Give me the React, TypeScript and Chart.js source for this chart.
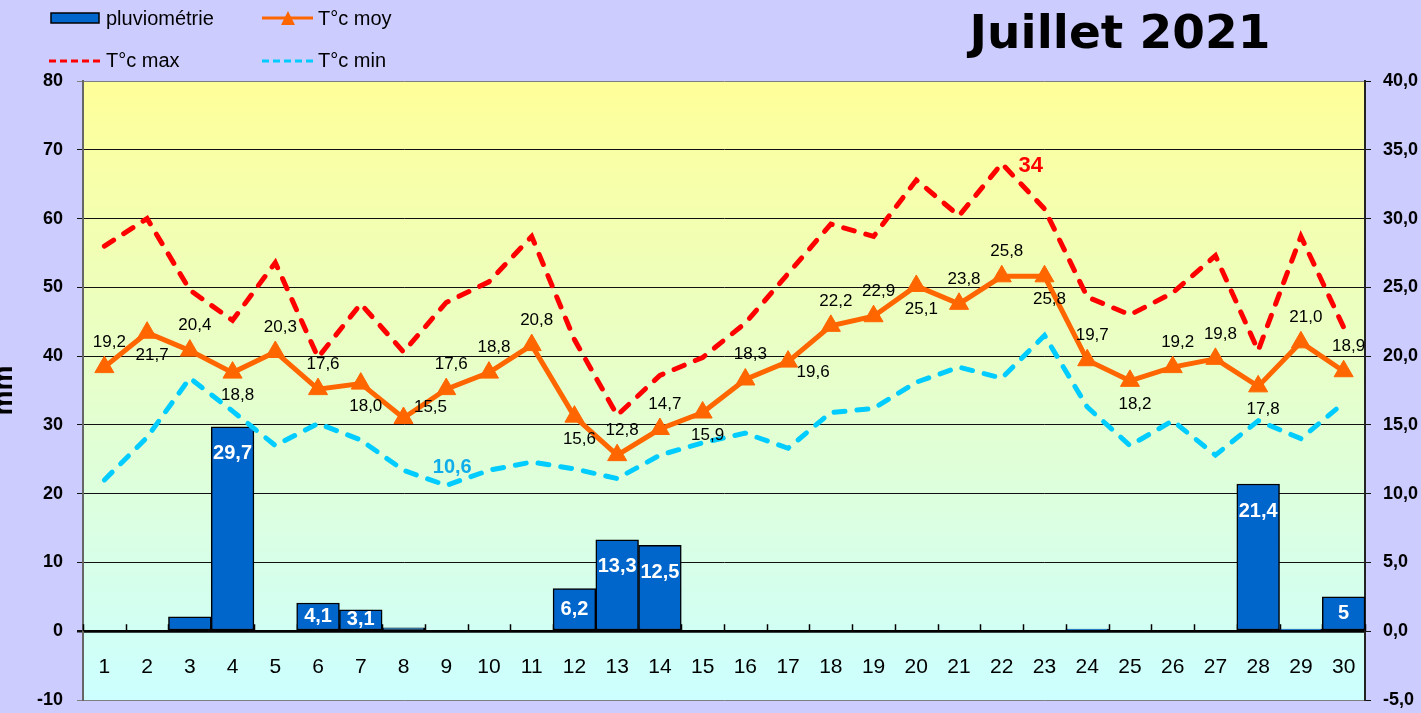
import React, { useEffect, useRef } from 'react';
import { Chart, registerables } from 'chart.js';

Chart.register(...registerables);

// ---- data ----
const days = ['1','2','3','4','5','6','7','8','9','10','11','12','13','14','15','16','17','18','19','20','21','22','23','24','25','26','27','28','29','30'];
const rain = [0, 0, 2.1, 29.7, 0, 4.1, 3.1, 0.5, 0, 0, 0, 6.2, 13.3, 12.5, 0, 0, 0, 0, 0, 0, 0, 0, 0, 0.3, 0, 0, 0, 21.4, 0.3, 5];
const tMoy = [19.2, 21.7, 20.4, 18.8, 20.3, 17.6, 18.0, 15.5, 17.6, 18.8, 20.8, 15.6, 12.8, 14.7, 15.9, 18.3, 19.6, 22.2, 22.9, 25.1, 23.8, 25.8, 25.8, 19.7, 18.2, 19.2, 19.8, 17.8, 21.0, 18.9];
const tMax = [28.0, 30.0, 24.8, 22.6, 26.8, 19.9, 23.8, 20.3, 23.9, 25.4, 28.7, 21.2, 15.7, 18.6, 19.9, 22.4, 26.0, 29.6, 28.7, 32.8, 30.2, 34.0, 30.7, 24.3, 23.0, 24.6, 27.3, 20.4, 28.7, 22.1];
const tMin = [11.0, 14.1, 18.4, 16.0, 13.5, 15.1, 13.9, 11.7, 10.6, 11.7, 12.3, 11.8, 11.1, 12.8, 13.7, 14.4, 13.3, 15.9, 16.2, 18.1, 19.2, 18.4, 21.5, 16.3, 13.5, 15.3, 12.8, 15.3, 14.0, 16.6];
// where each T°c moy value label sits: a = above, b = below, ur = up-right, dr = down-right
const moyLabelPos = ['a','b','a','b','a','a','b','ur','a','a','a','b','a','a','b','a','dr','a','a','b','a','a','b','a','b','a','a','b','a','a'];
const titleText = 'Juillet 2021';
const rainLabel = 'pluviométrie';
const moyLabel = 'T°c moy';
const maxLabel = 'T°c max';
const minLabel = 'T°c min';

const FONT = '"Liberation Sans", Arial, sans-serif';
const BAR = '#0066CC';
const ORANGE = '#FF6600';
const RED = '#FF0000';
const CYAN = '#00CCFF';

const comma = (s: string) => s.replace('.', ',');

const bgPlugin = {
  id: 'plotBg',
  beforeDraw(chart: any) {
    const { ctx, chartArea: a } = chart;
    const g = ctx.createLinearGradient(0, a.top, 0, a.bottom);
    g.addColorStop(0, '#FFFF99');
    g.addColorStop(1, '#CCFFFF');
    ctx.save();
    ctx.fillStyle = g;
    ctx.fillRect(a.left, a.top, a.right - a.left, a.bottom - a.top);
    ctx.restore();
  },
};

const upTicksPlugin = {
  id: 'upTicks',
  beforeDatasetsDraw(chart: any) {
    const { ctx } = chart;
    const xs = chart.scales.x;
    const y0 = chart.scales.y.getPixelForValue(0);
    const n = xs.ticks.length;
    const step = (xs.right - xs.left) / n;
    ctx.save();
    ctx.strokeStyle = '#000';
    ctx.lineWidth = 1.5;
    for (let i = 0; i <= n; i++) {
      const x = Math.round(xs.left + i * step) + 0.5;
      ctx.beginPath();
      ctx.moveTo(x, y0);
      ctx.lineTo(x, y0 - 7);
      ctx.stroke();
    }
    ctx.restore();
  },
};

const labelsPlugin = {
  id: 'valueLabels',
  afterDatasetsDraw(chart: any) {
    const { ctx } = chart;
    ctx.save();
    // rain labels
    const barMeta = chart.getDatasetMeta(0);
    ctx.font = `bold 20px ${FONT}`;
    ctx.fillStyle = '#FFFFFF';
    ctx.textAlign = 'center';
    ctx.textBaseline = 'middle';
    barMeta.data.forEach((el: any, i: number) => {
      const v = rain[i];
      if (v < 3) return;
      const h = el.base - el.y;
      ctx.fillText(comma(String(v)), el.x, el.y + Math.min(27, h / 2));
    });
    // moy labels
    const moyMeta = chart.getDatasetMeta(1);
    ctx.font = `17px ${FONT}`;
    ctx.fillStyle = '#000';
    const offs: Record<string, number[]> = { a: [5, -25], b: [5, 23], ur: [27, -11], dr: [25, 11] };
    moyMeta.data.forEach((el: any, i: number) => {
      const o = offs[moyLabelPos[i]];
      ctx.fillText(comma(tMoy[i].toFixed(1)), el.x + o[0], el.y + o[1]);
    });
    // max of T max
    const maxMeta = chart.getDatasetMeta(2);
    let mi = 0;
    tMax.forEach((v, i) => { if (v > tMax[mi]) mi = i; });
    const pMax = maxMeta.data[mi];
    ctx.font = `bold 22px ${FONT}`;
    ctx.fillStyle = RED;
    ctx.fillText(comma(String(Math.round(tMax[mi] * 10) / 10)), pMax.x + 29, pMax.y + 2);
    // min of T min
    const minMeta = chart.getDatasetMeta(3);
    let ni = 0;
    tMin.forEach((v, i) => { if (v < tMin[ni]) ni = i; });
    const pMin = minMeta.data[ni];
    ctx.font = `bold 20px ${FONT}`;
    ctx.fillStyle = '#0FAEEA';
    ctx.fillText(comma(tMin[ni].toFixed(1)), pMin.x + 6, pMin.y - 18);
    ctx.restore();
  },
};

const legendTitlePlugin = {
  id: 'legendTitle',
  afterDraw(chart: any) {
    const { ctx } = chart;
    const ds = chart.data.datasets;
    ctx.save();
    ctx.font = `20px ${FONT}`;
    ctx.fillStyle = '#000';
    ctx.textAlign = 'left';
    ctx.textBaseline = 'middle';
    // pluviométrie
    ctx.fillStyle = BAR;
    ctx.fillRect(51, 13, 48, 10);
    ctx.strokeStyle = '#000';
    ctx.lineWidth = 1.5;
    ctx.strokeRect(51, 13, 48, 10);
    ctx.fillStyle = '#000';
    ctx.fillText(ds[0].label, 106, 19);
    // moy
    ctx.strokeStyle = ORANGE;
    ctx.lineWidth = 3;
    ctx.beginPath();
    ctx.moveTo(262, 18);
    ctx.lineTo(313, 18);
    ctx.stroke();
    ctx.fillStyle = ORANGE;
    ctx.beginPath();
    ctx.moveTo(288, 11);
    ctx.lineTo(295, 25);
    ctx.lineTo(281, 25);
    ctx.closePath();
    ctx.fill();
    ctx.fillStyle = '#000';
    ctx.fillText(ds[1].label, 318, 19);
    // max
    ctx.setLineDash([7, 4]);
    ctx.strokeStyle = RED;
    ctx.beginPath();
    ctx.moveTo(49, 61);
    ctx.lineTo(102, 61);
    ctx.stroke();
    ctx.fillText(ds[2].label, 106, 61);
    // min
    ctx.strokeStyle = CYAN;
    ctx.beginPath();
    ctx.moveTo(262, 61);
    ctx.lineTo(313, 61);
    ctx.stroke();
    ctx.setLineDash([]);
    ctx.fillText(ds[3].label, 318, 61);
    // title
    ctx.font = `bold 47px "DejaVu Sans", ${FONT}`;
    ctx.textAlign = 'center';
    ctx.textBaseline = 'alphabetic';
    ctx.fillText(titleText, 1120, 48);
    ctx.restore();
  },
};

export default function App() {
  const ref = useRef<HTMLCanvasElement>(null);

  useEffect(() => {
    const canvas = ref.current;
    if (!canvas) return;
    const chart = new Chart(canvas, {
      type: 'bar',
      data: {
        labels: days,
        datasets: [
          {
            type: 'bar',
            label: rainLabel,
            data: rain,
            yAxisID: 'y',
            backgroundColor: BAR,
            borderColor: '#000',
            borderWidth: 1.5,
            borderSkipped: false,
            barPercentage: 1,
            categoryPercentage: 1,
            order: 4,
          },
          {
            type: 'line',
            label: moyLabel,
            data: tMoy,
            yAxisID: 'y1',
            borderColor: ORANGE,
            backgroundColor: ORANGE,
            borderWidth: 5,
            pointStyle: 'triangle',
            pointRadius: 11,
            pointBackgroundColor: ORANGE,
            pointBorderColor: ORANGE,
            pointBorderWidth: 1,
            tension: 0,
            fill: false,
            order: 1,
          },
          {
            type: 'line',
            label: maxLabel,
            data: tMax,
            yAxisID: 'y1',
            borderColor: RED,
            borderWidth: 5,
            borderDash: [11, 12],
            borderCapStyle: 'round',
            pointRadius: 0,
            tension: 0,
            fill: false,
            order: 3,
          },
          {
            type: 'line',
            label: minLabel,
            data: tMin,
            yAxisID: 'y1',
            borderColor: CYAN,
            borderWidth: 5,
            borderDash: [11, 12],
            borderCapStyle: 'round',
            pointRadius: 0,
            tension: 0,
            fill: false,
            order: 2,
          },
        ],
      },
      options: {
        responsive: false,
        animation: false,
        devicePixelRatio: 1,
        layout: { padding: { top: 81, bottom: 13, left: 0, right: 0 } },
        plugins: {
          legend: { display: false },
          title: { display: false },
          tooltip: { enabled: false },
        },
        scales: {
          x: {
            type: 'category',
            position: { y: 0 },
            offset: true,
            afterFit: (s: any) => { s.height = 0; s.paddingLeft = 0; s.paddingRight = 0; },
            grid: { display: false, drawTicks: false },
            border: { display: true, color: '#000', width: 2.5 },
            ticks: {
              autoSkip: false,
              maxRotation: 0,
              padding: 23,
              color: '#000',
              font: { family: FONT, size: 21 },
            },
          },
          y: {
            type: 'linear',
            position: 'left',
            min: -10,
            max: 80,
            afterFit: (s: any) => { s.width = 83; s.paddingTop = 0; s.paddingBottom = 0; },
            ticks: {
              stepSize: 10,
              padding: 14,
              color: '#000',
              font: { family: FONT, size: 18, weight: 'bold' },
            },
            grid: {
              color: (c: any) => (c.tick && (c.tick.value === 80 || c.tick.value === -10) ? '#808080' : '#111'),
              lineWidth: (c: any) => (c.tick && c.tick.value === 0 ? 2.5 : 1),
              tickLength: 6,
            },
            border: { display: true, color: '#666', width: 2 },
            title: {
              display: true,
              text: 'mm',
              color: '#000',
              font: { family: FONT, size: 28, weight: 'bold' },
              padding: { top: -13, bottom: 0 },
            },
          },
          y1: {
            type: 'linear',
            position: 'right',
            min: -5,
            max: 40,
            afterFit: (s: any) => { s.width = 56; s.paddingTop = 0; s.paddingBottom = 0; },
            ticks: {
              stepSize: 5,
              padding: 12,
              color: '#000',
              font: { family: FONT, size: 18, weight: 'bold' },
              callback: (v: any) => comma(Number(v).toFixed(1)),
            },
            grid: { drawOnChartArea: false, color: '#111', tickLength: 6 },
            border: { display: true, color: '#222', width: 2 },
          },
        },
      },
      plugins: [bgPlugin, upTicksPlugin, labelsPlugin, legendTitlePlugin],
    } as any);
    return () => chart.destroy();
  }, []);

  return (
    <div style={{ position: 'fixed', left: 0, top: 0, width: 1421, height: 713, background: '#CCCCFF' }}>
      <canvas ref={ref} width={1421} height={713} style={{ display: 'block', width: 1421, height: 713 }} />
    </div>
  );
}
